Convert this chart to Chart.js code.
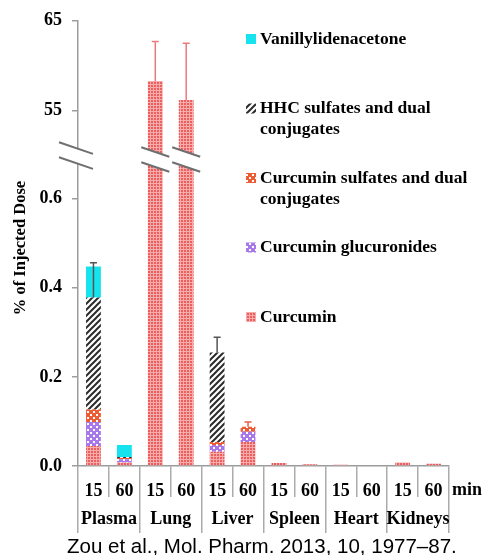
<!DOCTYPE html>
<html>
<head>
<meta charset="utf-8">
<script src="https://cdn.jsdelivr.net/npm/chart.js@4.4.0/dist/chart.umd.min.js"></script>
<style>
  body { margin: 0; background: #fff; }
  #wrap { position: relative; width: 487px; height: 555px; }
  #src { position: absolute; left: 67px; top: 536px; font: 20.5px/20.5px "Liberation Sans", Arial, sans-serif; color: #000; white-space: nowrap; }
</style>
</head>
<body>
<div id="wrap">
  <canvas id="organChart" width="487" height="555"></canvas>
  <div id="src">Zou et al., Mol. Pharm. 2013, 10, 1977–87.</div>
</div>
<script>
var organs = ['Plasma', 'Lung', 'Liver', 'Spleen', 'Heart', 'Kidneys'];
var times = ['15', '60'];
var labels = [];
organs.forEach(function () { times.forEach(function (t) { labels.push(t); }); });

// % of injected dose, one value per bar (Plasma 15, Plasma 60, Lung 15, ...)
var curcumin     = [0.045, 0.008, 58.3, 56.2, 0.032, 0.054, 0.007, 0.004, 0.003, 0.000, 0.008, 0.005];
var glucuronides = [0.054, 0.007, 0, 0, 0.015, 0.023, 0, 0, 0, 0, 0, 0];
var sulfates     = [0.028, 0.003, 0, 0, 0.007, 0.011, 0, 0, 0, 0, 0, 0];
var hhc          = [0.251, 0.002, 0, 0, 0.201, 0, 0, 0, 0, 0, 0, 0];
var vanillyl     = [0.070, 0.027, 0, 0, 0, 0, 0, 0, 0, 0, 0, 0];

// error bars (+ only)
var curcuminErr = [0, 0, 4.4, 6.3, 0, 0, 0, 0, 0, 0, 0, 0];
var sulfatesErr = [0, 0, 0, 0, 0, 0.011, 0, 0, 0, 0, 0, 0];
var hhcErr      = [0.078, 0, 0, 0, 0.034, 0, 0, 0, 0, 0, 0, 0];

var lowTicks = [0, 0.2, 0.4, 0.6];
var highTicks = [55, 65];
var LOW_MAX = 0.69, HIGH_MIN = 49.7, HIGH_MAX = 65;

var SERIF = '"Liberation Serif", "Times New Roman", serif';
Chart.defaults.font.family = SERIF;
Chart.defaults.color = '#000';

var ctx = document.getElementById('organChart').getContext('2d');

function makePattern(size, paint) {
    var c = document.createElement('canvas');
    c.width = c.height = size;
    paint(c.getContext('2d'), size);
    return ctx.createPattern(c, 'repeat');
}

var curcuminFill = makePattern(3, function (g) {
    g.fillStyle = '#ec5f5f'; g.fillRect(0, 0, 3, 3);
    g.fillStyle = '#f8abab'; g.fillRect(0, 0, 3, 1); g.fillRect(0, 0, 1, 3);
});
var glucFill = makePattern(6, function (g) {
    g.fillStyle = '#a878ea'; g.fillRect(0, 0, 6, 6);
    g.fillStyle = '#ffffff'; g.fillRect(0, 0, 2, 2); g.fillRect(3, 3, 2, 2);
});
var sulfFill = makePattern(6, function (g) {
    g.fillStyle = '#ee5c34'; g.fillRect(0, 0, 6, 6);
    g.fillStyle = '#ffffff'; g.fillRect(0, 0, 2, 2); g.fillRect(3, 3, 2, 2);
});
var hhcFill = makePattern(6, function (g) {
    g.fillStyle = '#ffffff'; g.fillRect(0, 0, 6, 6);
    g.strokeStyle = '#2b2b2b'; g.lineWidth = 2;
    g.beginPath();
    g.moveTo(0, 6); g.lineTo(6, 0);
    g.moveTo(-1, 1); g.lineTo(1, -1);
    g.moveTo(5, 7); g.lineTo(7, 5);
    g.stroke();
});
var vanFill = '#16e3ee';

var errorSets = [
    { dataset: 5, err: curcuminErr, color: '#e87c7c' },
    { dataset: 2, err: sulfatesErr, color: '#e8604a' },
    { dataset: 3, err: hhcErr, color: '#555555' }
];

function wrapText(c, text, maxW) {
    var words = text.split(' '), lines = [], line = '';
    words.forEach(function (w) {
        var test = line ? line + ' ' + w : w;
        if (c.measureText(test).width > maxW && line) { lines.push(line); line = w; }
        else line = test;
    });
    lines.push(line);
    return lines;
}

var brokenAxis = {
    id: 'brokenAxis',
    afterDatasetsDraw: function (chart) {
        var c = chart.ctx;
        errorSets.forEach(function (e) {
            var meta = chart.getDatasetMeta(e.dataset);
            var scale = chart.scales[meta.yAxisID];
            e.err.forEach(function (err, i) {
                var bar = meta.data[i];
                if (!err || !bar || bar.skip) return;
                var v = scale.getValueForPixel(bar.y);
                var top = scale.getPixelForValue(v + err);
                c.save();
                c.strokeStyle = e.color;
                c.lineWidth = 1.5;
                c.beginPath();
                c.moveTo(bar.x, bar.y); c.lineTo(bar.x, top);
                c.moveTo(bar.x - 3.5, top); c.lineTo(bar.x + 3.5, top);
                c.stroke();
                c.restore();
            });
        });
    },
    afterDraw: function (chart) {
        var c = chart.ctx;
        var J = chart.scales.yHigh.bottom;
        var marks = [{ x: chart.scales.y.right - 2, dy: -3, half: 17 }];
        chart.getDatasetMeta(5).data.forEach(function (bar, i) {
            if (chart.data.datasets[5].data[i] !== null) marks.push({ x: bar.x, dy: 1, half: 14 });
        });
        marks.forEach(function (m) {
            var s = 0.34, g = 7.5, yc = J + m.dy;
            var x0 = m.x - m.half, x1 = m.x + m.half;
            c.save();
            c.fillStyle = '#ffffff';
            c.beginPath();
            c.moveTo(x0, yc - g - s * m.half);
            c.lineTo(x1, yc - g + s * m.half);
            c.lineTo(x1, yc + g + s * m.half);
            c.lineTo(x0, yc + g - s * m.half);
            c.closePath();
            c.fill();
            c.strokeStyle = '#6f6f6f';
            c.lineWidth = 2;
            c.beginPath();
            c.moveTo(x0, yc - g - s * m.half); c.lineTo(x1, yc - g + s * m.half);
            c.moveTo(x0, yc + g - s * m.half); c.lineTo(x1, yc + g + s * m.half);
            c.stroke();
            c.restore();
        });

        // legend, top entry = top of stack
        c.save();
        c.font = 'bold 17.5px ' + SERIF;
        c.textBaseline = 'middle';
        c.textAlign = 'left';
        [4, 3, 2, 1, 0].forEach(function (idx, k) {
            var ds = chart.data.datasets[idx];
            var y = 39 + k * 69.5;
            c.fillStyle = ds.backgroundColor;
            c.fillRect(246, y - 5, 10, 10);
            c.fillStyle = '#000';
            wrapText(c, ds.label, 224).forEach(function (ln, j) {
                c.fillText(ln, 260, y + j * 21);
            });
        });

        // unit next to the time labels
        c.font = 'bold 18px ' + SERIF;
        c.fillText('min', 452, 490);

        // y axis title
        c.translate(21, 248);
        c.rotate(-Math.PI / 2);
        c.textAlign = 'center';
        c.font = 'bold 16.5px ' + SERIF;
        c.fillText('% of Injected Dose', 0, 0);
        c.restore();
    }
};

var tickFont = { family: SERIF, weight: 'bold', size: 18 };
var axisGray = '#9c9c9c';

var chart = new Chart(ctx, {
    type: 'bar',
    data: {
        labels: labels,
        datasets: [
            { label: 'Curcumin', data: curcumin.map(function (v) { return Math.min(v, LOW_MAX); }), backgroundColor: curcuminFill, yAxisID: 'y' },
            { label: 'Curcumin glucuronides', data: glucuronides, backgroundColor: glucFill, yAxisID: 'y' },
            { label: 'Curcumin sulfates and dual conjugates', data: sulfates, backgroundColor: sulfFill, yAxisID: 'y' },
            { label: 'HHC sulfates and dual conjugates', data: hhc, backgroundColor: hhcFill, yAxisID: 'y' },
            { label: 'Vanillylidenacetone', data: vanillyl, backgroundColor: vanFill, yAxisID: 'y' },
            // part of the curcumin bars above the axis break
            { label: 'Curcumin (upper)', data: curcumin.map(function (v) { return v > LOW_MAX ? [HIGH_MIN, v] : null; }), backgroundColor: curcuminFill, yAxisID: 'yHigh' }
        ]
    },
    options: {
        responsive: false,
        animation: false,
        layout: { padding: { left: 0, right: 38, top: 20, bottom: 24 } },
        datasets: { bar: { barPercentage: 0.96, categoryPercentage: 0.5, borderWidth: 0 } },
        plugins: {
            legend: { display: false },
            tooltip: { enabled: false }
        },
        scales: {
            x: {
                stacked: true,
                offset: true,
                weight: 0,
                grid: { offset: true, drawOnChartArea: false, tickLength: 31, color: '#ababab', lineWidth: 1.5 },
                border: { display: true, color: axisGray, width: 1.5 },
                ticks: { padding: -16, font: tickFont, maxRotation: 0, autoSkip: false },
                afterFit: function (s) { s.height = 31; }
            },
            groups: {
                type: 'category',
                labels: organs,
                position: 'bottom',
                offset: true,
                weight: 1,
                grid: { offset: true, drawOnChartArea: false, tickLength: 36, color: '#ababab', lineWidth: 1.5 },
                border: { display: false },
                ticks: { padding: -24, font: tickFont, maxRotation: 0, autoSkip: false },
                afterFit: function (s) { s.height = 34; }
            },
            y: {
                stacked: true,
                stack: 'dose',
                stackWeight: 308,
                weight: 0,
                min: 0,
                max: LOW_MAX,
                afterBuildTicks: function (s) { s.ticks = lowTicks.map(function (v) { return { value: v }; }); },
                grid: { drawOnChartArea: false, tickLength: 6, color: axisGray, lineWidth: 1.5 },
                border: { color: axisGray, width: 1.5 },
                ticks: { padding: 10, font: tickFont, callback: function (v) { return Number(v).toFixed(1); } },
                afterFit: function (s) { s.width = 78; }
            },
            yHigh: {
                type: 'linear',
                position: 'left',
                stack: 'dose',
                stackWeight: 138,
                weight: 1,
                min: HIGH_MIN,
                max: HIGH_MAX,
                afterBuildTicks: function (s) { s.ticks = highTicks.map(function (v) { return { value: v }; }); },
                grid: { drawOnChartArea: false, tickLength: 6, color: axisGray, lineWidth: 1.5 },
                border: { color: axisGray, width: 1.5 },
                ticks: { padding: 10, font: tickFont, callback: function (v) { return String(v); } },
                afterFit: function (s) { s.width = 78; }
            }
        }
    },
    plugins: [brokenAxis]
});
</script>
</body>
</html>
